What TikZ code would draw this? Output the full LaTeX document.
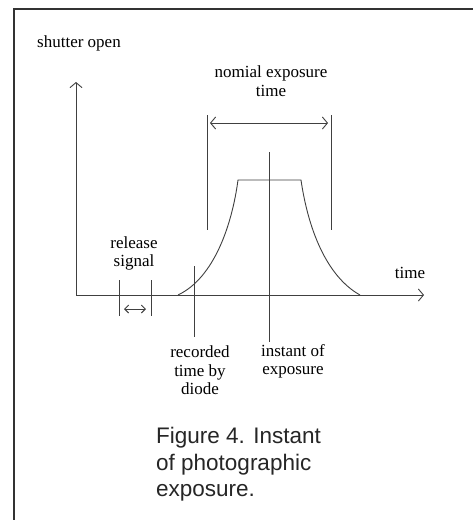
\documentclass[tikz,border=0pt]{standalone}
\usepackage{fontspec}
\setmainfont{Liberation Serif}
\newfontfamily\capfont{Liberation Sans}
\usetikzlibrary{arrows.meta}
\begin{document}
\begin{tikzpicture}[x=1pt,y=-1pt,
  ln/.style={line width=0.9pt, draw=black!75},
  tip/.style={-{Straight Barb[length=5pt,width=12pt]}},
  dtip/.style={{Straight Barb[length=5pt,width=12pt]}-{Straight Barb[length=5pt,width=12pt]}},
  lbl/.style={font=\fontsize{17}{18.5}\selectfont, align=center, inner sep=0pt, text=black},
  captxt/.style={font=\capfont\fontsize{22.5}{26.5}\selectfont, align=left, inner sep=0pt, text=black!85}]
\useasboundingbox (0,0) rectangle (473,520);
\fill[white] (0,0) rectangle (473,520);
% frame
\coordinate (fbl) at (14,520);
\coordinate (ftl) at (14,9);
\coordinate (ftr) at (473,9);
\draw[line width=2pt, black!80] (fbl) -- (ftl) -- (ftr);
% axes
\coordinate (O) at (76,295);
\coordinate (Ytop) at (76,82);
\coordinate (Xend) at (424,295);
\draw[ln, tip] (O) -- (Ytop);
\draw[ln, tip] (O) -- (Xend);
% pulse
\coordinate (p0) at (178,295);
\coordinate (p1) at (238,180);
\coordinate (p2) at (301,180);
\coordinate (p3) at (360,295);
\draw[ln] (p0) .. controls (214,278) and (232,225) .. (p1) -- (p2)
  .. controls (308,228) and (326,276) .. (p3);
% nominal exposure markers
\coordinate (nl1) at (207,115); \coordinate (nl2) at (207,230);
\coordinate (nr1) at (331,115); \coordinate (nr2) at (331,230);
\draw[ln] (nl1) -- (nl2);
\draw[ln] (nr1) -- (nr2);
\coordinate (na) at (210,123); \coordinate (nb) at (328,123);
\draw[ln, dtip] (na) -- (nb);
% instant of exposure line
\coordinate (ie1) at (269,152); \coordinate (ie2) at (269,342);
\draw[ln] (ie1) -- (ie2);
% recorded time line
\coordinate (rt1) at (194,266); \coordinate (rt2) at (194,337);
\draw[ln] (rt1) -- (rt2);
% release signal ticks
\coordinate (rs1a) at (119,280); \coordinate (rs1b) at (119,316);
\coordinate (rs2a) at (151,280); \coordinate (rs2b) at (151,316);
\draw[ln] (rs1a) -- (rs1b);
\draw[ln] (rs2a) -- (rs2b);
\coordinate (ra) at (124,309); \coordinate (rb) at (146,309);
\draw[ln, {Straight Barb[length=4pt,width=8pt]}-{Straight Barb[length=4pt,width=8pt]}] (ra) -- (rb);
% labels
\node[lbl] (shut) at (79,43) {shutter open};
\node[lbl] (time) at (410,273) {time};
\node[lbl] (nom) at (271,81) {nomial exposure\\time};
\node[lbl] (rel) at (134,253.5) {release\\signal};
\node[lbl] (rec) at (200,370.5) {recorded\\time by\\diode};
\node[lbl] (inst) at (293,361.5) {instant of\\exposure};
\node[captxt, anchor=west] (caption) at (156,464.5) {Figure 4. Instant\\of photographic\\exposure.};
\end{tikzpicture}
\end{document}
